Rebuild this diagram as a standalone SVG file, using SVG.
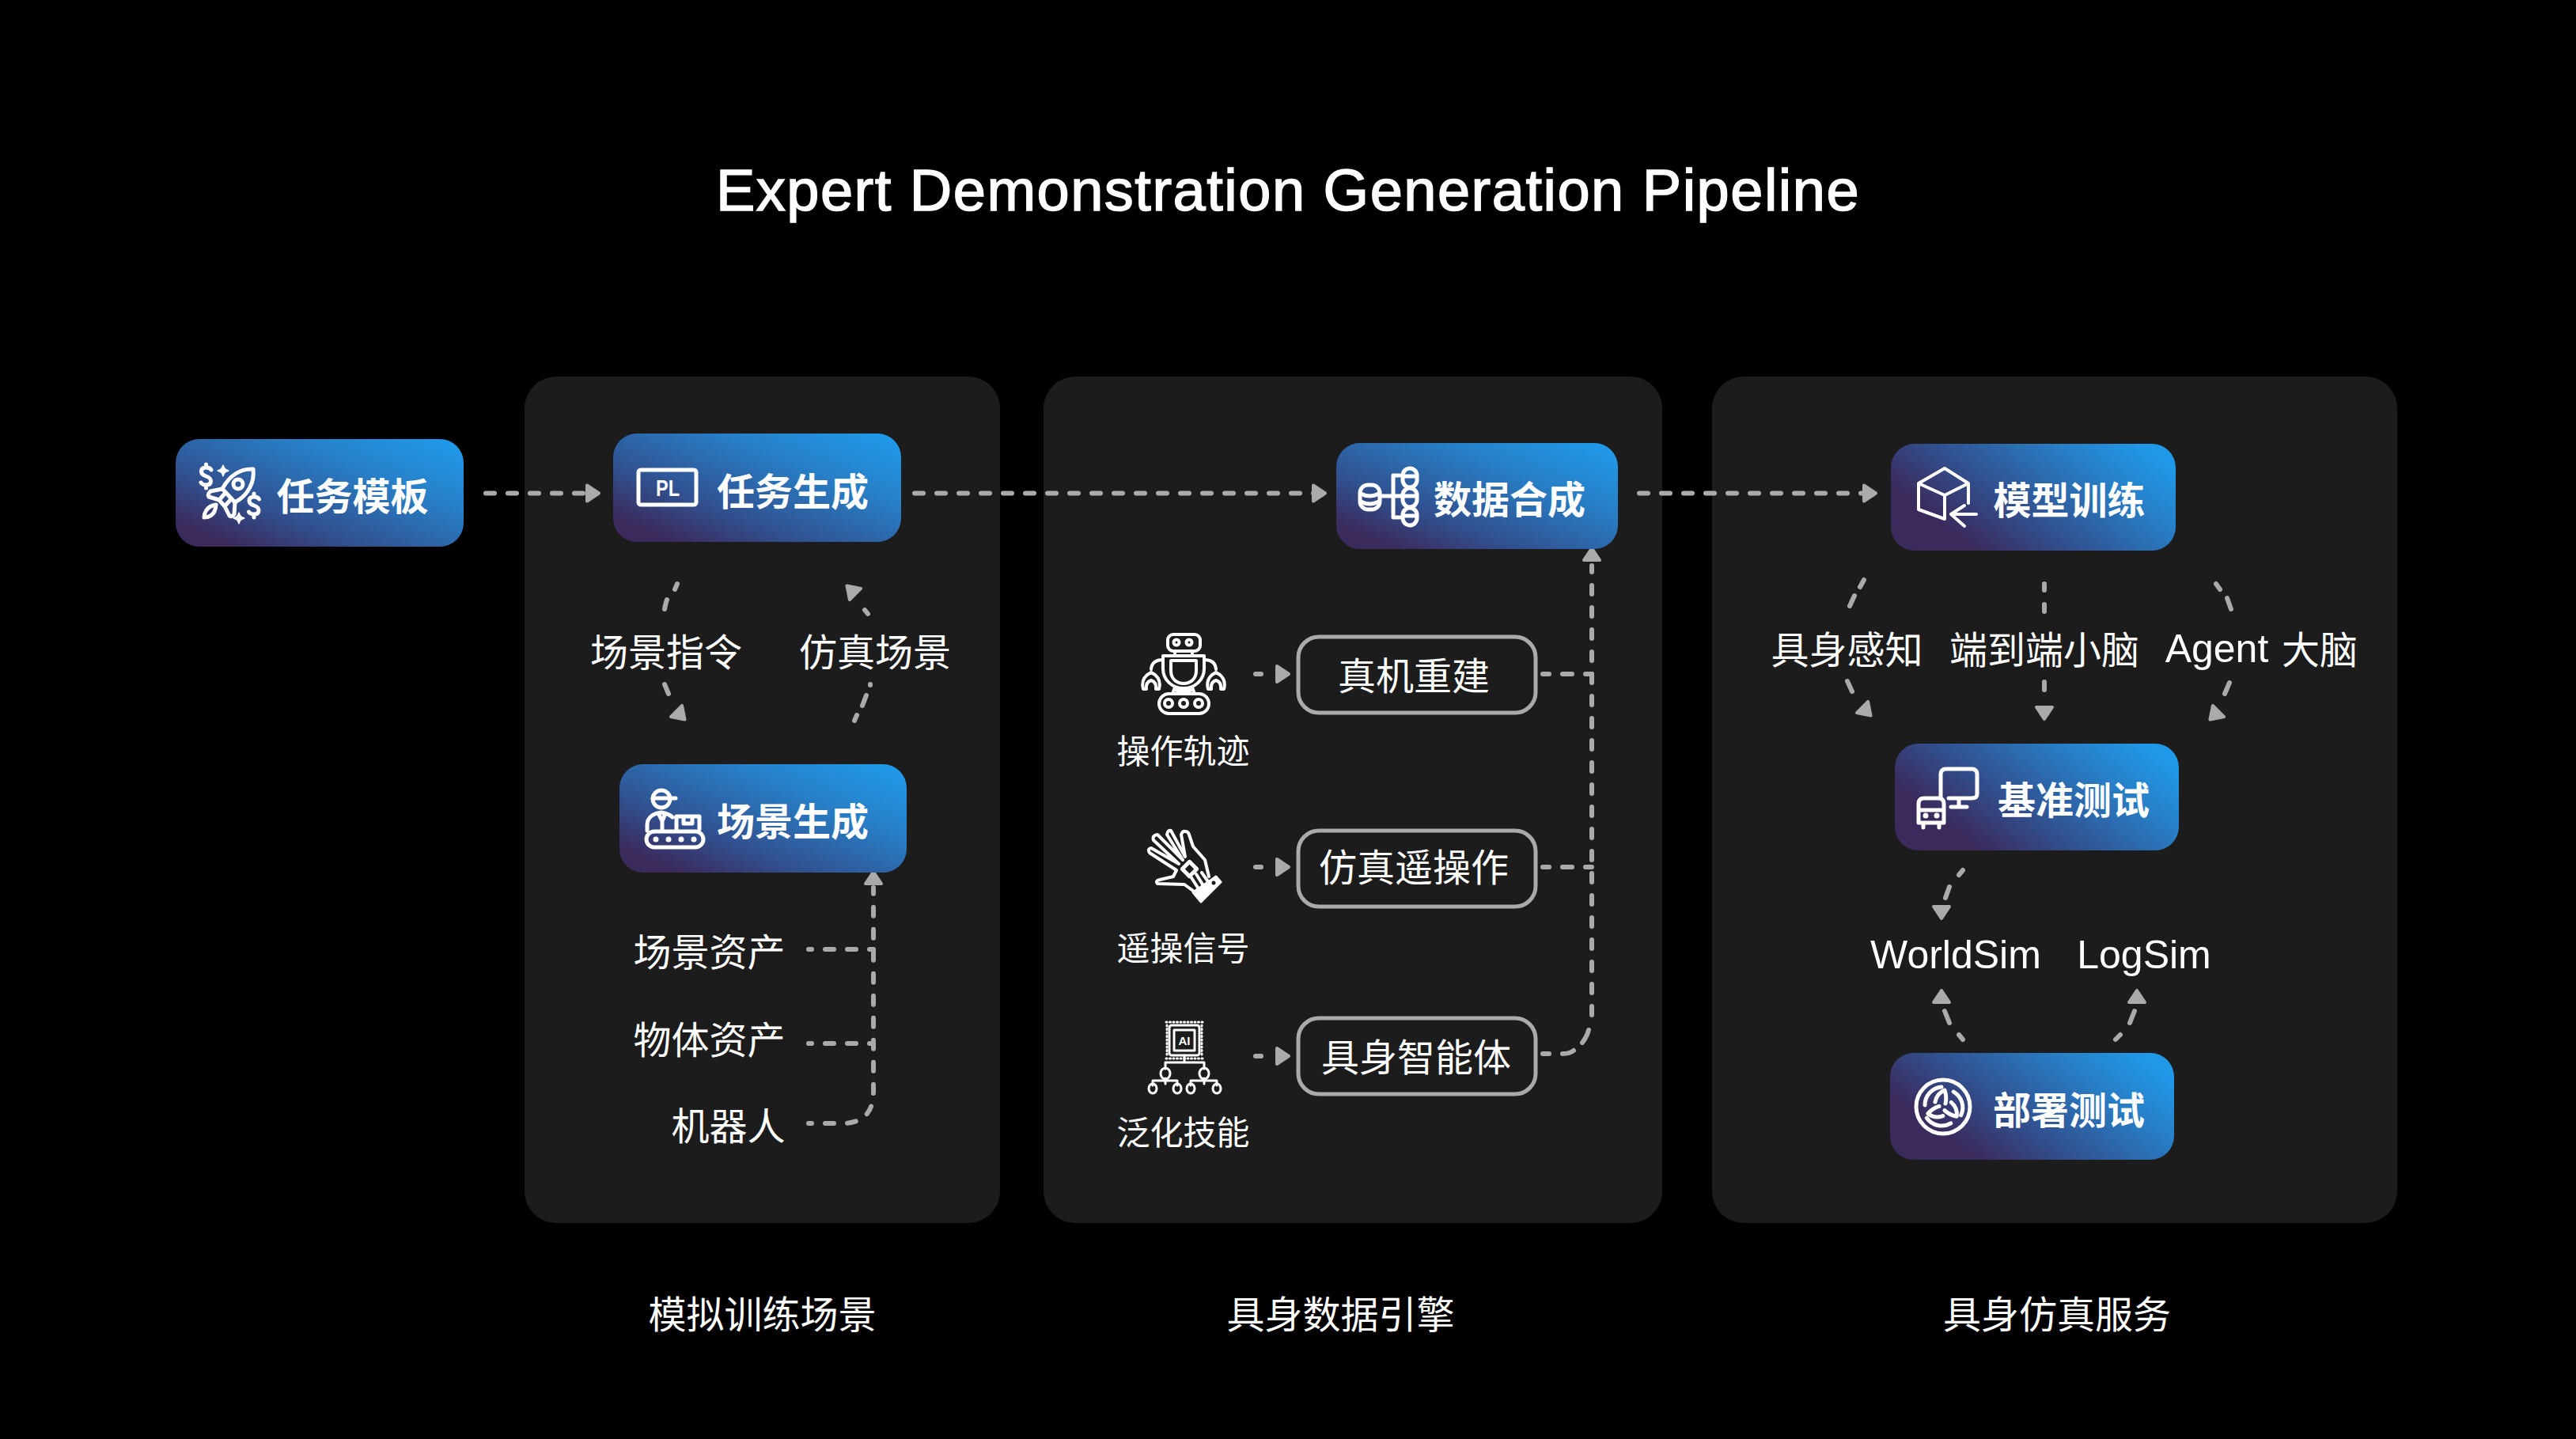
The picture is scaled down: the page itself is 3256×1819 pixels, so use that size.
<svg xmlns="http://www.w3.org/2000/svg" width="3256" height="1819" viewBox="0 0 3256 1819">
<style>
text{font-family:"Noto Sans CJK SC","Liberation Sans",sans-serif;fill:#fff;text-anchor:middle;dominant-baseline:central}
.t{font-size:48px;font-weight:600}
.l{font-size:48px;font-weight:400}
.s{font-size:42px;font-weight:400}
.en{font-family:"Liberation Sans","Noto Sans CJK SC",sans-serif}
.w{font-size:50px;font-weight:400}
.title{font-family:"Liberation Sans",sans-serif;font-size:74px;letter-spacing:1.5px;stroke:#fff;stroke-width:1.5px;dominant-baseline:auto}
.panel{fill:#1c1c1c}
.n{fill:url(#g1)}.n2{fill:url(#g2)}
.box{fill:#1c1c1c;stroke:#aaa;stroke-width:5}
.d{fill:none;stroke:#aaa;stroke-width:6;stroke-linecap:round;stroke-dasharray:11 17}
.e{fill:none;stroke:#aaa;stroke-width:6;stroke-linecap:round}
.i{fill:none;stroke:#fff;stroke-width:5;stroke-linecap:round;stroke-linejoin:round}
.i4{fill:none;stroke:#fff;stroke-width:4;stroke-linecap:round;stroke-linejoin:round}
.i3{fill:none;stroke:#fff;stroke-width:3;stroke-linecap:round;stroke-linejoin:round}
.f{fill:#fff}
.b{fill:#1c1c1c}
</style>
<defs>
<linearGradient id="g1" x1="0.08" y1="0.95" x2="1" y2="0.1"><stop offset="0.05" stop-color="#3b2a5c"/><stop offset="0.3" stop-color="#31508f"/><stop offset="0.7" stop-color="#2780c8"/><stop offset="1" stop-color="#2098e8"/></linearGradient>
<linearGradient id="g2" x1="0.1" y1="0.7" x2="1" y2="0.25"><stop offset="0.05" stop-color="#3b2a5c"/><stop offset="0.35" stop-color="#31508f"/><stop offset="0.75" stop-color="#2780c8"/><stop offset="1" stop-color="#2098e8"/></linearGradient>
<path id="ah" d="M-17,-10 L-2,0 L-17,10Z" fill="#aaa" stroke="#aaa" stroke-width="4" stroke-linejoin="round"/>
<g id="knot"><path d="M-23,-2A23,23 0 0 1 -2,-25"/><path d="M-10,-6Q-8,-17 2,-21Q5,-12 3,-4"/></g>
<path id="dollar" d="M6.5,-8Q5,-11 0,-11Q-6,-11 -6,-6Q-6,-2 0,0Q6,2 6,6Q6,11 0,11Q-5,11 -6.500,8M0,-15V-11M0,11V15"/>
<path id="star" d="M0,-6.500Q1,-1 6.500,0Q1,1 0,6.500Q-1,1 -6.500,0Q-1,-1 0,-6.500Z" fill="#fff" stroke="#fff" stroke-width="2" stroke-linejoin="round"/>
<path id="claw" d="M-6,25H-10Q-13,14 -5,7L0,4L5,7Q13,14 10,25H6Q7,16 0,14Q-7,16 -6,25Z"/>
</defs>
<rect width="3256" height="1819" fill="#000"/>
<text class="title" x="1628" y="266">Expert Demonstration Generation Pipeline</text>
<g id="panels">
<rect class="panel" x="663" y="476" width="601" height="1070" rx="40"/>
<rect class="panel" x="1319" y="476" width="782" height="1070" rx="40"/>
<rect class="panel" x="2164" y="476" width="866" height="1070" rx="40"/>
</g>
<g id="connectors">
<path class="d" d="M614,623.5H745"/><use href="#ah" transform="translate(759,623.5)"/>
<path class="d" d="M1156,623.5H1662"/><use href="#ah" transform="translate(1677,623.5)"/>
<path class="d" d="M2072,623.5H2358"/><use href="#ah" transform="translate(2373,623.5)"/>
<path class="e" d="M856,738L853,745M843,758Q841,764 840,770M840,865L845,877"/><use href="#ah" transform="translate(867,911) rotate(45)"/>
<path class="e" d="M1093,771L1097,776M1100,865V866M1095,879L1090,892M1083,904L1080,911"/><use href="#ah" transform="translate(1069,739) rotate(-135)"/>
<path class="d" stroke-dashoffset="7" d="M1022,1420H1064Q1104,1420 1104,1380V1122"/><use href="#ah" transform="translate(1104,1100) rotate(-90)"/>
<path class="d" stroke-dashoffset="7" d="M1022,1200H1104"/>
<path class="d" stroke-dashoffset="7" d="M1022,1319H1104"/>
<path class="d" d="M2012,1283V715"/><use href="#ah" transform="translate(2012,691) rotate(-90)"/>
<path class="e" d="M1950,852H1958M1975,852H1987M2004,852H2012"/>
<path class="e" d="M1950,1096H1958M1975,1096H1987M2004,1096H2012"/>
<path class="e" d="M1950,1332H1958M1975,1332Q1984,1332 1989,1328M2000,1318Q2006,1310 2008,1302"/>
<path class="e" d="M1587,852H1594"/><use href="#ah" transform="translate(1631,852)"/>
<path class="e" d="M1587,1096H1594"/><use href="#ah" transform="translate(1631,1096)"/>
<path class="e" d="M1587,1335H1594"/><use href="#ah" transform="translate(1631,1335)"/>
<path class="e" d="M2356,733L2351,742M2344,753L2338,766M2335,861L2341,874"/><use href="#ah" transform="translate(2366,906) rotate(45)"/>
<path class="e" d="M2584,738V746M2584,764V773M2584,862V872"/><use href="#ah" transform="translate(2584,911) rotate(90)"/>
<path class="e" d="M2801,738L2806,745M2815,756L2820,770M2818,863L2812,877"/><use href="#ah" transform="translate(2792,911) rotate(135)"/>
<path class="e" d="M2481,1100L2476,1106M2464,1121L2459,1135"/><use href="#ah" transform="translate(2454,1163) rotate(90)"/>
<path class="e" d="M2458,1278L2464,1293M2476,1308L2481,1314"/><use href="#ah" transform="translate(2454,1250) rotate(-90)"/>
<path class="e" d="M2698,1278L2692,1293M2680,1308L2674,1314"/><use href="#ah" transform="translate(2701,1250) rotate(-90)"/>
</g>
<g id="n-task-template"><rect class="n" x="222" y="555" width="364" height="136" rx="30"/>
<g class="i"><path d="M320,593C304,592 290,601 281,618L297,635C314,626 322,609 320,593Z"/><circle cx="301" cy="612" r="6"/><path d="M281,618L266,621Q262,625 264,628L277,632L284,624M297,635L296,650Q293,654 290,652L284,640L292,631M277,632L284,640M273,638C260,640 258,650 258,654C262,654 272,653 273,638Z"/><use href="#dollar" transform="translate(260.500,602)"/><use href="#dollar" transform="translate(321,639)"/></g>
<use href="#star" transform="translate(282,595)"/><use href="#star" transform="translate(302,655)"/>
<text class="t" x="445.500" y="624">任务模板</text></g>
<g id="n-task-gen"><rect class="n" x="775" y="548" width="364" height="137" rx="30"/>
<rect class="i" x="807" y="594" width="73" height="44" rx="3"/><text x="844" y="616" font-size="30" font-weight="700" class="en" textLength="30" lengthAdjust="spacingAndGlyphs">PL</text>
<text class="t" x="1002" y="618">任务生成</text></g>
<g id="n-scene-gen"><rect class="n" x="783" y="966" width="363" height="137" rx="30"/>
<g class="i"><circle cx="836" cy="1010" r="11"/><path d="M825,1009H854M818,1050V1043C818,1033 826,1028 836,1027C843,1028 847,1030 850,1033M832,1028L837,1038L841,1028M837,1038V1048M855,1048V1032H884V1048M864,1032V1041H875V1032"/><rect x="817" y="1051" width="72" height="20" rx="10"/></g>
<g class="f"><circle cx="829" cy="1061" r="3.500"/><circle cx="845" cy="1061" r="3.500"/><circle cx="861" cy="1061" r="3.500"/><circle cx="877" cy="1061" r="3.500"/></g>
<text class="t" x="1002" y="1035">场景生成</text></g>
<g id="n-data"><rect class="n" x="1689" y="560" width="356" height="134" rx="30"/>
<g class="i"><rect x="1719" y="613" width="25" height="31" rx="10"/><path d="M1720,624Q1731,630 1743,624M1720,634Q1731,640 1743,634M1744,627H1772M1769,601H1761V654H1769"/><rect x="1773" y="592" width="18" height="24" rx="9"/><rect x="1773" y="617" width="18" height="24" rx="9"/><rect x="1773" y="642" width="18" height="22" rx="9"/><path d="M1774,602H1790M1774,627H1790M1774,652H1790"/></g>
<text class="t" x="1908" y="628">数据合成</text></g>
<g id="n-train"><rect class="n2" x="2390" y="561" width="360" height="135" rx="30"/>
<g class="i4"><path d="M2458,592L2425,611V644L2458,656M2458,592L2488,611V636M2425,611L2458,626L2488,611M2458,626V656M2498,650H2466M2483,639L2466,650L2483,665"/></g>
<text class="t" x="2615.500" y="629">模型训练</text></g>
<g id="n-bench"><rect class="n2" x="2395" y="940" width="359" height="135" rx="30"/>
<g class="i"><path d="M2453,1009V979Q2453,972 2460,972H2492Q2499,972 2499,979V1004Q2499,1009 2492,1009H2463M2476,1009V1020M2466,1020H2486"/><path d="M2425,1040V1016Q2425,1009 2432,1009H2450Q2457,1009 2457,1016V1040ZM2425,1024H2457M2431,1040V1046M2451,1040V1046"/></g>
<circle class="f" cx="2434" cy="1031" r="3.500"/><circle class="f" cx="2448" cy="1031" r="3.500"/>
<text class="t" x="2621" y="1008">基准测试</text></g>
<g id="n-deploy"><rect class="n2" x="2389" y="1331" width="359" height="135" rx="30"/>
<circle class="i" cx="2456" cy="1399" r="34"/>
<g class="i" stroke-width="4.500"><use href="#knot" transform="translate(2456,1399)"/><use href="#knot" transform="translate(2456,1399) rotate(120)"/><use href="#knot" transform="translate(2456,1399) rotate(240)"/></g>
<text class="t" x="2615" y="1400">部署测试</text></g>
<g id="n-robot"><g class="i4"><rect x="1476" y="802" width="41" height="21" rx="7"/><circle cx="1487" cy="812" r="3.500"/><circle cx="1503" cy="812" r="3.500"/><path d="M1485,823V829M1507,823V829M1470,829H1522V845C1522,860 1510,870 1496,870C1482,870 1470,860 1470,845ZM1480,835H1512V848C1512,858 1505,864 1496,864C1487,864 1480,858 1480,848ZM1470,834Q1456,834 1455,846M1522,834Q1536,834 1537,846M1485,869L1482,877M1507,869L1510,877M1487,873H1505"/><rect x="1465" y="877" width="63" height="25" rx="12.500"/><circle cx="1477" cy="889" r="5"/><circle cx="1496" cy="889" r="5"/><circle cx="1515" cy="889" r="5"/><use href="#claw" transform="translate(1455,846)"/><use href="#claw" transform="translate(1537,846)"/></g></g>
<g id="n-glove"><path class="i4" d="M1508,1126L1497,1118L1463,1117Q1460,1113 1466,1112L1483,1108L1487,1100L1453,1078Q1450,1073 1455,1072L1490,1092L1458,1062Q1456,1056 1463,1055L1495,1087L1475,1055Q1476,1049 1480,1050L1498,1083L1493,1055Q1495,1050 1498,1051Q1502,1051 1503,1055L1508,1070L1523,1087L1528,1108M1512,1105L1520,1118M1519,1103L1526,1113M1505,1108L1514,1122"/><path class="f" d="M1508,1128L1537,1108L1543,1115L1518,1140Z" stroke="#fff" stroke-width="3" stroke-linejoin="round"/><circle class="b" cx="1534" cy="1116" r="2.500"/><rect class="i" x="1497" y="1092" width="13" height="13" transform="rotate(45 1503.500 1098.500)"/></g>
<g id="n-chip"><g class="i3"><rect x="1478" y="1296" width="38" height="38" rx="3"/><rect x="1484" y="1302" width="26" height="26"/><path d="M1497,1334V1343M1473,1351V1343H1522V1351M1473,1363V1370M1522,1363V1370M1457,1372V1366H1488V1372M1505,1372V1366H1538V1372"/><ellipse cx="1473" cy="1357" rx="6" ry="7"/><ellipse cx="1522" cy="1357" rx="6" ry="7"/><ellipse cx="1457" cy="1376" rx="5" ry="6"/><ellipse cx="1488" cy="1376" rx="5" ry="6"/><ellipse cx="1505" cy="1376" rx="5" ry="6"/><ellipse cx="1538" cy="1376" rx="5" ry="6"/><path stroke-dasharray="1 3.500" d="M1474,1292H1520M1474,1338H1520M1475,1296V1336M1519,1296V1336"/></g><text x="1497" y="1315" font-size="15" font-weight="700" class="en">AI</text></g>
<g id="labels">
<text class="l" x="842" y="821">场景指令</text>
<text class="l" x="1106" y="821">仿真场景</text>
<text class="l" x="896.500" y="1200">场景资产</text>
<text class="l" x="896.500" y="1311">物体资产</text>
<text class="l" x="920.500" y="1420">机器人</text>
<text class="s" x="1495.500" y="946">操作轨迹</text>
<text class="s" x="1495.500" y="1195">遥操信号</text>
<text class="s" x="1495.500" y="1428">泛化技能</text>
<text class="l" x="2334.500" y="818">具身感知</text>
<text class="l" x="2584" y="818">端到端小脑</text>
<text class="w en" x="2802" y="820">Agent</text>
<text class="l" x="2932" y="818">大脑</text>
<text class="w en" x="2472" y="1207">WorldSim</text>
<text class="w en" x="2710" y="1207">LogSim</text>
<text class="l" x="963.500" y="1658">模拟训练场景</text>
<text class="l" x="1694.500" y="1658">具身数据引擎</text>
<text class="l" x="2600" y="1658">具身仿真服务</text>
</g>
<g id="n-recon"><rect class="box" x="1641" y="805" width="300" height="96" rx="26"/><text class="l" x="1787" y="851">真机重建</text></g>
<g id="n-teleop"><rect class="box" x="1641" y="1050" width="300" height="96" rx="26"/><text class="l" x="1787" y="1093">仿真遥操作</text></g>
<g id="n-agent"><rect class="box" x="1641" y="1287" width="300" height="96" rx="26"/><text class="l" x="1790" y="1333">具身智能体</text></g>
</svg>
